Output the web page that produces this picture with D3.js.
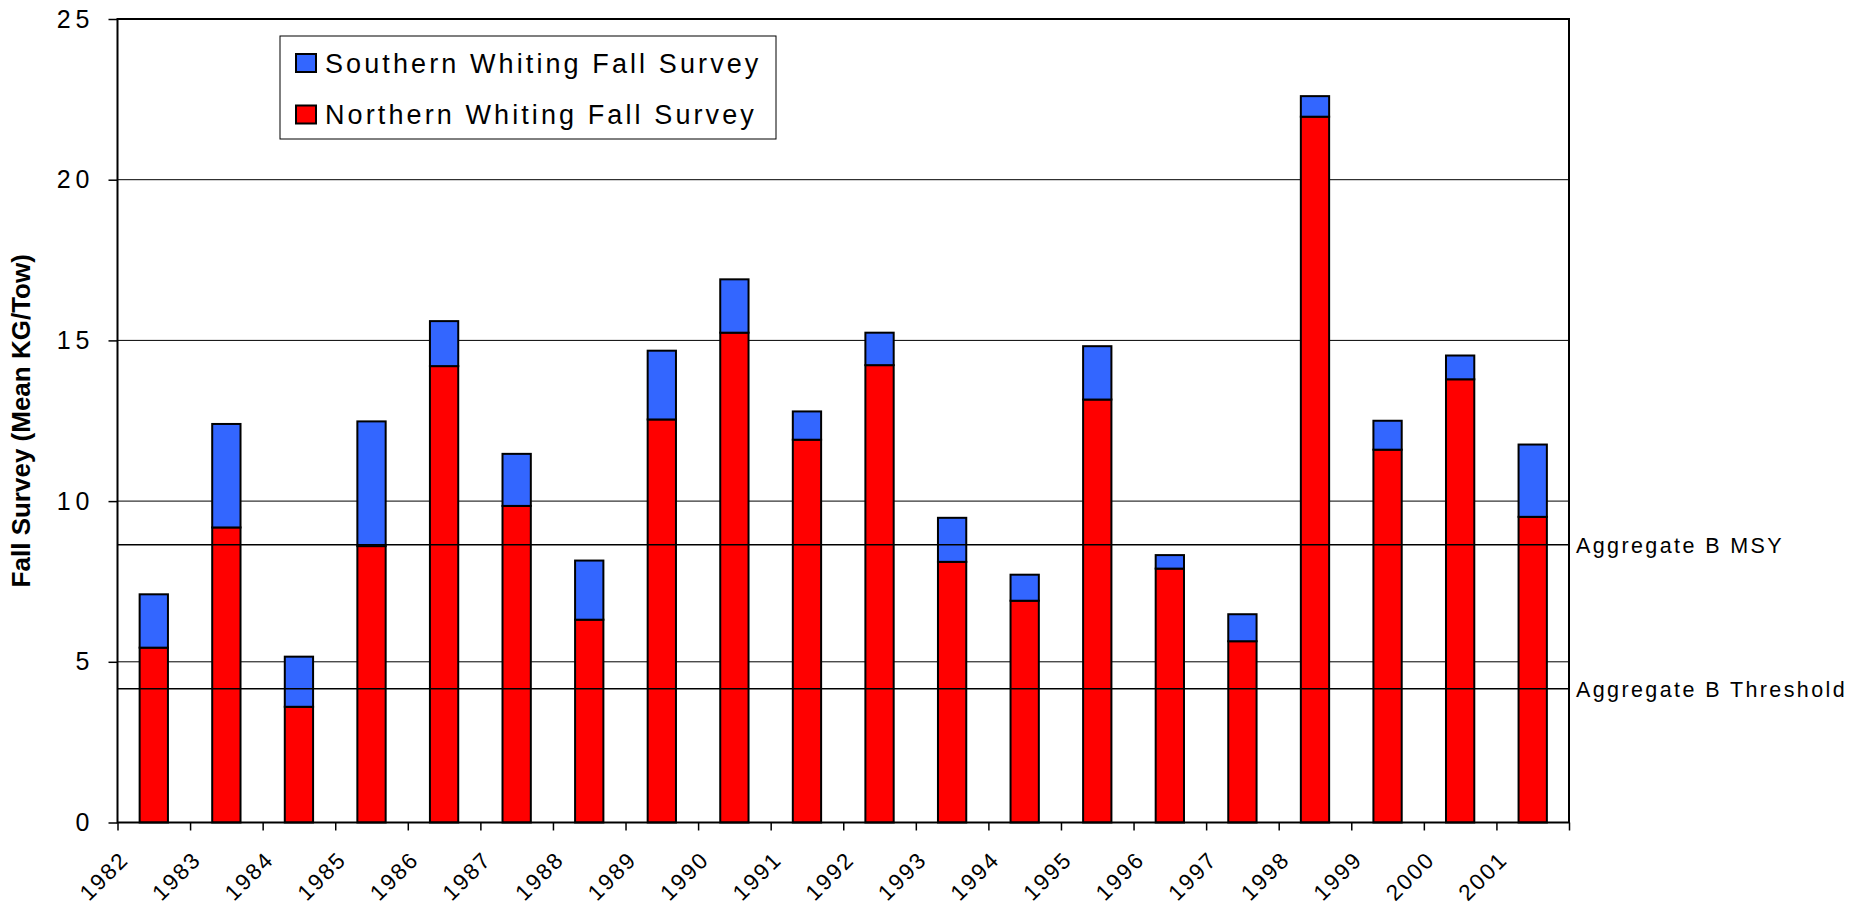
<html>
<head>
<title>Whiting Fall Survey</title>
<script src="https://d3js.org/d3.v7.min.js"></script>
<style>
    body { margin: 0; background: #fff; overflow: hidden; }
    text { font-family: Arial, "Liberation Sans", sans-serif; fill: #000; }
</style>
</head>
<body>
<div id="container"></div>
<script>
var years = ["1982", "1983", "1984", "1985", "1986", "1987", "1988", "1989", "1990", "1991",
             "1992", "1993", "1994", "1995", "1996", "1997", "1998", "1999", "2000", "2001"];
var northern = [5.44, 9.18, 3.60, 8.60, 14.20, 9.85, 6.31, 12.54, 15.24, 11.91,
                14.23, 8.11, 6.90, 13.16, 7.90, 5.64, 21.96, 11.60, 13.79, 9.51];
var southern = [1.66, 3.22, 1.56, 3.88, 1.40, 1.62, 1.84, 2.14, 1.66, 0.88,
                1.01, 1.37, 0.81, 1.66, 0.42, 0.84, 0.64, 0.90, 0.74, 2.25];
var yTicks = [0, 5, 10, 15, 20, 25];
var refNames = ["Aggregate B MSY", "Aggregate B Threshold"];
var refValues = [8.64, 4.16];
var seriesNames = ["Southern Whiting Fall Survey", "Northern Whiting Fall Survey"];
var seriesColors = ["#3366ff", "#ff0000"];
var yTitle = "Fall Survey (Mean KG/Tow)";

var width = 1858, height = 905;
var plotLeft = 117.5, plotRight = 1569, plotTop = 19, plotBottom = 822.5;

var svg = d3.select("#container").append("svg")
    .attr("width", width)
    .attr("height", height)
    .style("display", "block");

var x = d3.scaleBand().domain(years).range([plotLeft, plotRight]).padding(0);
var xb = d3.scaleLinear().domain([0, years.length]).range([plotLeft, plotRight]);
var y = d3.scaleLinear().domain([0, 25]).range([plotBottom, plotTop]);

// gridlines (behind bars)
svg.append("g").selectAll("line")
    .data(yTicks.filter(function(d) { return d > 0 && d < 25; }))
    .enter().append("line")
    .attr("x1", plotLeft).attr("x2", plotRight)
    .attr("y1", function(d) { return y(d); })
    .attr("y2", function(d) { return y(d); })
    .attr("stroke", "#000")
    .attr("stroke-width", 1);

// stacked bars: northern at the bottom, southern on top
var rows = years.map(function(yr, i) {
    return { year: yr, north: northern[i], south: southern[i] };
});
var stack = d3.stack().keys(["north", "south"])(rows);
var colorOf = { north: seriesColors[1], south: seriesColors[0] };

var barW = x.bandwidth() * 0.39;
svg.append("g").selectAll("g")
    .data(stack)
    .enter().append("g")
    .attr("fill", function(s) { return colorOf[s.key]; })
    .selectAll("rect")
    .data(function(s) { return s; })
    .enter().append("rect")
    .attr("x", function(d) { return x(d.data.year) + (x.bandwidth() - barW) / 2; })
    .attr("width", barW)
    .attr("y", function(d) { return y(d[1]); })
    .attr("height", function(d) { return y(d[0]) - y(d[1]); })
    .attr("stroke", "#000")
    .attr("stroke-width", 2);

// reference lines over the bars
var refs = svg.append("g");
refs.selectAll("line")
    .data(refValues)
    .enter().append("line")
    .attr("x1", plotLeft).attr("x2", plotRight)
    .attr("y1", function(d) { return y(d); })
    .attr("y2", function(d) { return y(d); })
    .attr("stroke", "#000")
    .attr("stroke-width", 1.5);
refs.selectAll("text")
    .data(refValues)
    .enter().append("text")
    .attr("x", plotRight + 7)
    .attr("y", function(d) { return y(d); })
    .attr("dy", "0.36em")
    .style("font-size", "21.5px")
    .style("letter-spacing", "2.4px")
    .text(function(d, i) { return refNames[i]; });

// plot frame
svg.append("rect")
    .attr("x", plotLeft).attr("y", plotTop)
    .attr("width", plotRight - plotLeft)
    .attr("height", plotBottom - plotTop)
    .attr("fill", "none")
    .attr("stroke", "#000")
    .attr("stroke-width", 2);

// y axis
var yAxis = svg.append("g")
    .attr("transform", "translate(" + plotLeft + ",0)")
    .call(d3.axisLeft(y).tickValues(yTicks).tickSize(9).tickPadding(14));
yAxis.attr("font-family", null).attr("font-size", null);
yAxis.select(".domain").remove();
yAxis.selectAll("line").attr("stroke", "#000").attr("stroke-width", 1.5);
yAxis.selectAll("text")
    .attr("fill", "#000")
    .style("font-size", "25px")
    .style("letter-spacing", "5px");

// x axis: ticks at category boundaries
var xAxis = svg.append("g")
    .attr("transform", "translate(0," + plotBottom + ")")
    .call(d3.axisBottom(xb).tickValues(d3.range(years.length + 1)).tickSize(8).tickFormat(""));
xAxis.select(".domain").remove();
xAxis.selectAll("line").attr("stroke", "#000").attr("stroke-width", 1.5);

svg.append("g").selectAll("text")
    .data(years)
    .enter().append("text")
    .attr("transform", function(d, i) {
        return "translate(" + (xb(i) + 12.5) + "," + 861 + ") rotate(-45)";
    })
    .attr("text-anchor", "end")
    .style("font-size", "22.5px")
    .style("letter-spacing", "2px")
    .text(function(d) { return d; });

// y title
svg.append("text")
    .attr("transform", "translate(30," + ((plotTop + plotBottom) / 2) + ") rotate(-90)")
    .attr("text-anchor", "middle")
    .style("font-size", "26px")
    .style("font-weight", "bold")
    .text(yTitle);

// legend
var legend = svg.append("g").attr("transform", "translate(280,36)");
legend.append("rect")
    .attr("width", 496).attr("height", 103)
    .attr("fill", "#fff")
    .attr("stroke", "#000")
    .attr("stroke-width", 1);
var items = legend.selectAll("g.item")
    .data(seriesNames)
    .enter().append("g")
    .attr("class", "item")
    .attr("transform", function(d, i) { return "translate(0," + (27 + i * 51.5) + ")"; });
items.append("rect")
    .attr("x", 16).attr("y", -9)
    .attr("width", 20).attr("height", 18)
    .attr("fill", function(d, i) { return seriesColors[i]; })
    .attr("stroke", "#000")
    .attr("stroke-width", 2);
items.append("text")
    .attr("x", 45)
    .attr("dy", "0.36em")
    .style("font-size", "27px")
    .style("letter-spacing", "3.1px")
    .text(function(d) { return d; });
</script>
</body>
</html>
